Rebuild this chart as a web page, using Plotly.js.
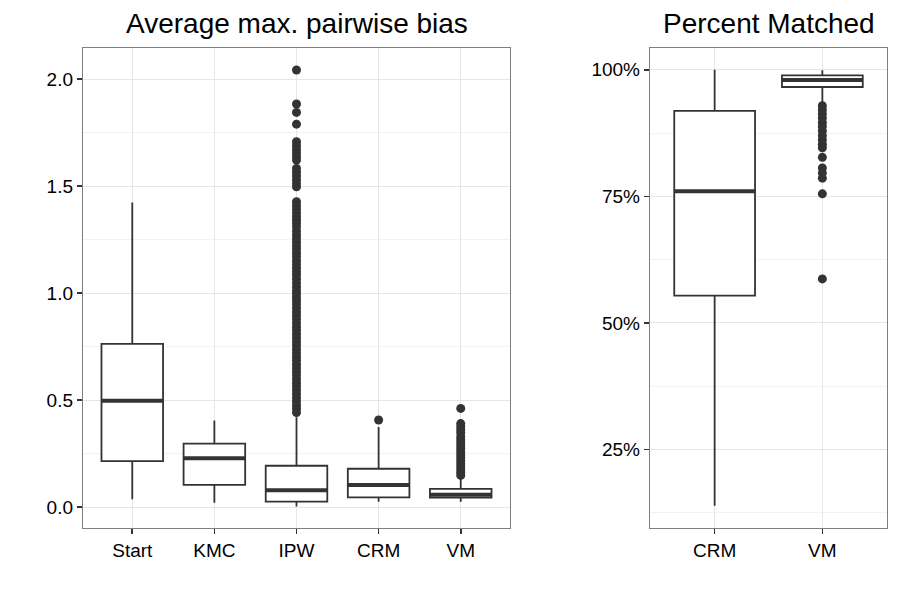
<!DOCTYPE html>
<html>
<head>
<meta charset="utf-8">
<script src="https://cdn.plot.ly/plotly-3.0.1.min.js"></script>
<style>html,body{margin:0;padding:0;background:#fff;}#chart{width:900px;height:600px;}</style>
</head>
<body>
<div id="chart"></div>
<script>
// ---- Left panel: Average max. pairwise bias ----
const biasCategories = ["Start", "KMC", "IPW", "CRM", "VM"];
const biasLowerWhisker = [0.036, 0.020, 0.003, 0.025, 0.025];
const biasQ1 = [0.215, 0.104, 0.025, 0.045, 0.044];
const biasMedian = [0.497, 0.228, 0.078, 0.103, 0.058];
const biasQ3 = [0.763, 0.296, 0.193, 0.179, 0.085];
const biasUpperWhisker = [1.424, 0.405, 0.420, 0.374, 0.130];

const ipwOutliers = [2.043, 1.884, 1.845, 1.790, 1.708, 1.690, 1.672, 1.655, 1.638, 1.622,
  1.583, 1.565, 1.548, 1.530, 1.512, 1.497, 1.427, 1.410, 1.392, 1.375, 1.358, 1.342, 1.326,
  1.310, 1.290, 1.272, 1.255, 1.238, 1.220, 1.205, 1.188, 1.170, 1.152, 1.135, 1.118, 1.100,
  1.085, 1.066, 1.048, 1.030, 1.012, 0.997, 0.980, 0.965, 0.948, 0.930, 0.912, 0.895, 0.878, 0.860,
  0.842, 0.826, 0.808, 0.790, 0.773, 0.756, 0.738, 0.720, 0.703, 0.686, 0.668, 0.650, 0.633,
  0.616, 0.598, 0.580, 0.563, 0.546, 0.528, 0.510, 0.493, 0.476, 0.460, 0.442];
const crmBiasOutliers = [0.407];
const vmBiasOutliers = [0.461, 0.390, 0.375, 0.360, 0.347, 0.329, 0.315, 0.300, 0.286, 0.272,
  0.258, 0.244, 0.230, 0.216, 0.202, 0.188, 0.174, 0.160, 0.148];

// ---- Right panel: Percent Matched ----
const pctCategories = ["CRM", "VM"];
const pctLowerWhisker = [0.139, 0.935];
const pctQ1 = [0.554, 0.966];
const pctMedian = [0.760, 0.980];
const pctQ3 = [0.919, 0.989];
const pctUpperWhisker = [1.000, 0.999];
const vmPctOutliers = [0.929, 0.921, 0.913, 0.905, 0.896, 0.888, 0.879, 0.870, 0.862, 0.853,
  0.846, 0.827, 0.806, 0.796, 0.786, 0.755, 0.587];

const INK = "#333333";
const BOXW = 0.75;
const idx = arr => arr.map((_, i) => i);

function boxTrace(cats, lo, q1, med, q3, hi, xa, ya) {
  return {
    type: "box", x: idx(cats), q1: q1, median: med, q3: q3,
    lowerfence: lo, upperfence: hi, width: BOXW, whiskerwidth: 0,
    boxpoints: false, fillcolor: "rgba(255,255,255,1)",
    line: {color: INK, width: 1.8}, xaxis: xa, yaxis: ya,
    hoverinfo: "skip", showlegend: false
  };
}
function medianTrace(med, xa, ya) {
  const xs = [], ys = [];
  med.forEach((m, i) => { xs.push(i - BOXW / 2, i + BOXW / 2, null); ys.push(m, m, null); });
  return {type: "scatter", mode: "lines", x: xs, y: ys, line: {color: INK, width: 4},
    xaxis: xa, yaxis: ya, hoverinfo: "skip", showlegend: false};
}
function outlierTrace(catIndex, vals, xa, ya) {
  return {type: "scatter", mode: "markers", x: vals.map(() => catIndex), y: vals,
    marker: {color: INK, size: 9}, xaxis: xa, yaxis: ya, hoverinfo: "skip", showlegend: false};
}

const data = [
  boxTrace(biasCategories, biasLowerWhisker, biasQ1, biasMedian, biasQ3, biasUpperWhisker, "x", "y"),
  medianTrace(biasMedian, "x", "y"),
  outlierTrace(biasCategories.indexOf("IPW"), ipwOutliers, "x", "y"),
  outlierTrace(biasCategories.indexOf("CRM"), crmBiasOutliers, "x", "y"),
  outlierTrace(biasCategories.indexOf("VM"), vmBiasOutliers, "x", "y"),
  boxTrace(pctCategories, pctLowerWhisker, pctQ1, pctMedian, pctQ3, pctUpperWhisker, "x2", "y2"),
  medianTrace(pctMedian, "x2", "y2"),
  outlierTrace(pctCategories.indexOf("VM"), vmPctOutliers, "x2", "y2")
];

const FONT = "Liberation Sans, Arial, Helvetica, sans-serif";
const tickFont = {family: FONT, size: 19, color: "#000"};
const axisCommon = {
  showline: true, mirror: true, linecolor: "#7f7f7f", linewidth: 1.2,
  ticks: "outside", ticklen: 5, tickwidth: 1.6, tickcolor: INK,
  gridcolor: "#e6e6e6", gridwidth: 1, zeroline: false, tickfont: tickFont, fixedrange: true
};

const layout = {
  width: 900, height: 600,
  margin: {l: 0, r: 0, t: 0, b: 0},
  paper_bgcolor: "#fff", plot_bgcolor: "#fff",
  showlegend: false,
  xaxis: Object.assign({}, axisCommon, {
    domain: [83 / 900, 510 / 900], range: [-0.6, 4.6],
    tickmode: "array", tickvals: idx(biasCategories), ticktext: biasCategories, anchor: "y"
  }),
  yaxis: Object.assign({}, axisCommon, {
    domain: [1 - 528 / 600, 1 - 48 / 600], range: [-0.098, 2.146],
    tick0: 0, dtick: 0.5, tickformat: ".1f", anchor: "x",
    minor: {dtick: 0.25, tick0: 0, showgrid: true, gridcolor: "#f2f2f2", ticks: ""}
  }),
  xaxis2: Object.assign({}, axisCommon, {
    domain: [650 / 900, 887 / 900], range: [-0.6, 1.6],
    tickmode: "array", tickvals: idx(pctCategories), ticktext: pctCategories, anchor: "y2"
  }),
  yaxis2: Object.assign({}, axisCommon, {
    domain: [1 - 528 / 600, 1 - 48 / 600], range: [0.095, 1.043],
    tick0: 0, dtick: 0.25, tickformat: ".0%", anchor: "x2",
    minor: {dtick: 0.125, tick0: 0, showgrid: true, gridcolor: "#f2f2f2", ticks: ""}
  }),
  annotations: [
    {text: "Average max. pairwise bias", xref: "paper", yref: "paper",
     x: (83 + 510) / 2 / 900, y: 1 - 23 / 600, xanchor: "center", yanchor: "middle",
     showarrow: false, font: {family: FONT, size: 28, color: "#000"}},
    {text: "Percent Matched", xref: "paper", yref: "paper",
     x: (650 + 887) / 2 / 900, y: 1 - 23 / 600, xanchor: "center", yanchor: "middle",
     showarrow: false, font: {family: FONT, size: 28, color: "#000"}}
  ]
};

Plotly.newPlot("chart", data, layout, {displayModeBar: false, staticPlot: true});
</script>
</body>
</html>
